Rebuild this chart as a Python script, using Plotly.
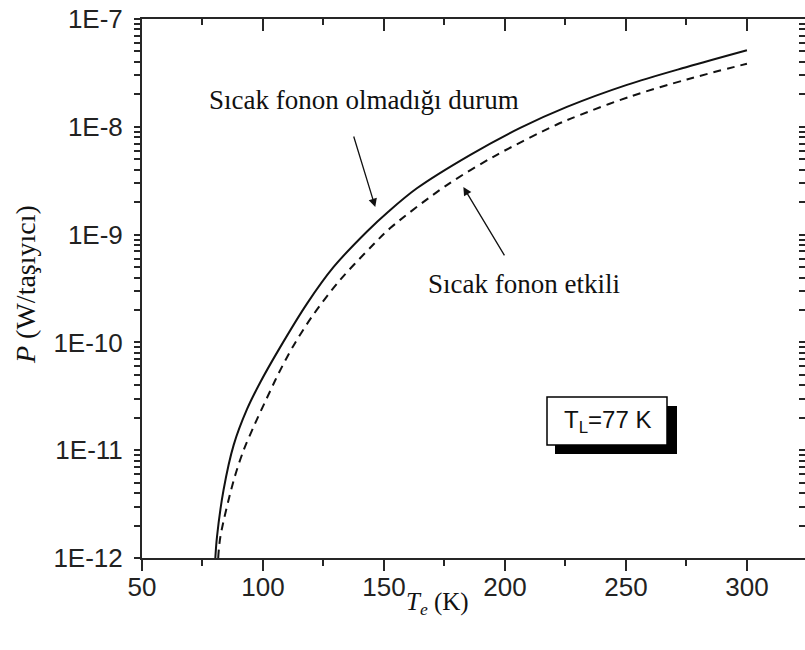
import plotly.graph_objects as go

# Electron temperature (K) and power loss per carrier (W/carrier)
te_no_hot = [80.3, 81.0, 83.7, 87.9, 93.4, 98.9, 106.7, 118.2, 129.2, 143.0,
             151.9, 163.6, 185.7, 206.3, 225.6, 250.4, 275.2, 300.0]
p_no_hot = [1.00e-12, 1.58e-12, 4.27e-12, 1.12e-11, 2.40e-11, 4.27e-11, 8.71e-11,
            2.29e-10, 5.01e-10, 1.07e-9, 1.64e-9, 2.69e-9, 5.50e-9, 9.77e-9,
            1.53e-8, 2.45e-8, 3.59e-8, 5.13e-8]

te_hot = [81.5, 82.4, 87.9, 92.0, 96.8, 103.0, 106.4, 112.6, 120.9, 131.9,
          145.7, 152.6, 176.0, 196.7, 221.5, 231.1, 251.8, 275.2, 300.0]
p_hot = [1.00e-12, 1.58e-12, 5.25e-12, 1.00e-11, 1.78e-11, 3.55e-11, 5.13e-11,
         9.33e-11, 1.82e-10, 3.80e-10, 8.13e-10, 1.15e-9, 2.88e-9, 5.50e-9,
         1.05e-8, 1.29e-8, 1.91e-8, 2.75e-8, 3.85e-8]

y_tickvals = [1e-12, 1e-11, 1e-10, 1e-9, 1e-8, 1e-7]
y_ticktext = ["1E-12", "1E-11", "1E-10", "1E-9", "1E-8", "1E-7"]
x_tickvals = [50, 100, 150, 200, 250, 300]
x_ticktext = ["50", "100", "150", "200", "250", "300"]

label_no_hot = "Sıcak fonon olmadığı durum"
label_hot = "Sıcak fonon etkili"
lattice_label = "T<sub>L</sub>=77 K"
x_title = "<i>T<sub>e</sub></i> (K)"
y_title = "<i>P</i> (W/taşıyıcı)"

W, H = 805, 650
L, R, T, B = 142, 0, 19, 92
X_RANGE = [50, 324]
Y_RANGE = [-12, -7]

sans = "Liberation Sans, Arial, sans-serif"
serif = "Liberation Serif, Times New Roman, serif"
axis_col = "#262626"

# decade ticks carry labels; digits 2..9 inside each decade get unlabeled ticks
y_all_vals, y_all_text = [], []
for val, txt in zip(y_tickvals, y_ticktext):
    y_all_vals.append(val)
    y_all_text.append(txt)
    if val < y_tickvals[-1]:
        for k in range(2, 10):
            y_all_vals.append(val * k)
            y_all_text.append("")


def px_to_paper_x(px):
    return (px - L) / (W - L - R)


def px_to_paper_y(py):
    return (H - B - py) / (H - T - B)


fig = go.Figure()
fig.add_trace(go.Scatter(x=te_no_hot, y=p_no_hot, mode="lines",
                         line=dict(color="#111111", width=2, shape="spline", smoothing=0.9),
                         showlegend=False, hoverinfo="skip"))
fig.add_trace(go.Scatter(x=te_hot, y=p_hot, mode="lines",
                         line=dict(color="#111111", width=2, dash="8px,6px",
                                   shape="spline", smoothing=0.9),
                         showlegend=False, hoverinfo="skip"))
# invisible trace anchoring the top/right frame axes
fig.add_trace(go.Scatter(x=te_no_hot, y=p_no_hot, xaxis="x2", yaxis="y2",
                         mode="lines", line=dict(width=0), opacity=0,
                         showlegend=False, hoverinfo="skip"))

frame = dict(showline=True, linewidth=2, linecolor=axis_col, showgrid=False,
             zeroline=False, tickwidth=2, tickcolor=axis_col)

fig.update_layout(
    width=W, height=H,
    margin=dict(l=L, r=R, t=T, b=B, pad=0),
    paper_bgcolor="white", plot_bgcolor="white",
    xaxis=dict(range=X_RANGE, tickvals=x_tickvals, ticktext=x_ticktext,
               ticks="outside", ticklen=11, ticklabelstandoff=-6,
               tickfont=dict(family=sans, size=26, color="#222"),
               minor=dict(dtick=25, tick0=50, ticks="outside", ticklen=6,
                          tickwidth=2, tickcolor=axis_col, showgrid=False),
               **frame),
    yaxis=dict(type="log", range=Y_RANGE, tickmode="array",
               tickvals=y_all_vals, ticktext=y_all_text,
               ticks="outside", ticklen=6, ticklabelstandoff=6,
               tickfont=dict(family=sans, size=26, color="#222"), **frame),
    xaxis2=dict(range=X_RANGE, overlaying="x", side="top", anchor="y2",
                tickvals=x_tickvals, showticklabels=False,
                ticks="inside", ticklen=12,
                minor=dict(dtick=25, tick0=50, ticks="inside", ticklen=6,
                           tickwidth=2, tickcolor=axis_col, showgrid=False),
                **frame),
    yaxis2=dict(type="log", range=Y_RANGE, overlaying="y", side="right", anchor="x2",
                tickmode="array", tickvals=y_all_vals, showticklabels=False,
                ticks="inside", ticklen=6, **frame),
)

# shadowed box holding the lattice temperature
fig.add_shape(type="rect", xref="paper", yref="paper",
              x0=px_to_paper_x(555), x1=px_to_paper_x(677),
              y0=px_to_paper_y(454), y1=px_to_paper_y(406),
              fillcolor="black", line=dict(width=0), layer="above")
fig.add_shape(type="rect", xref="paper", yref="paper",
              x0=px_to_paper_x(547), x1=px_to_paper_x(667),
              y0=px_to_paper_y(445), y1=px_to_paper_y(397),
              fillcolor="white", line=dict(color="black", width=1.5), layer="above")
fig.add_annotation(x=px_to_paper_x(607), y=px_to_paper_y(421), xref="paper", yref="paper",
                   xanchor="center", yanchor="middle",
                   text=lattice_label, showarrow=False,
                   font=dict(family=sans, size=24, color="#111"))

# curve labels with arrows
fig.add_annotation(x=px_to_paper_x(364), y=px_to_paper_y(100), xref="paper", yref="paper",
                   xanchor="center", yanchor="middle",
                   text=label_no_hot, showarrow=False,
                   font=dict(family=serif, size=27, color="#111"))
fig.add_annotation(x=146.4, y=-8.744, xref="x", yref="y", text="",
                   showarrow=True, ax=-22, ay=-72, arrowhead=2, arrowsize=1.3,
                   arrowwidth=1.3, arrowcolor="#111")
fig.add_annotation(x=px_to_paper_x(524), y=px_to_paper_y(284), xref="paper", yref="paper",
                   xanchor="center", yanchor="middle",
                   text=label_hot, showarrow=False,
                   font=dict(family=serif, size=27, color="#111"))
fig.add_annotation(x=182.8, y=-8.558, xref="x", yref="y", text="",
                   showarrow=True, ax=42, ay=70, arrowhead=2, arrowsize=1.3,
                   arrowwidth=1.3, arrowcolor="#111")

# axis titles
fig.add_annotation(x=px_to_paper_x(437), y=px_to_paper_y(603), xref="paper", yref="paper",
                   xanchor="center", yanchor="middle",
                   text=x_title, showarrow=False,
                   font=dict(family=serif, size=25, color="#111"))
fig.add_annotation(x=px_to_paper_x(25), y=px_to_paper_y(284), xref="paper", yref="paper",
                   xanchor="center", yanchor="middle",
                   text=y_title, showarrow=False, textangle=-90,
                   font=dict(family=serif, size=28, color="#111"))

fig.write_html("out.html")
